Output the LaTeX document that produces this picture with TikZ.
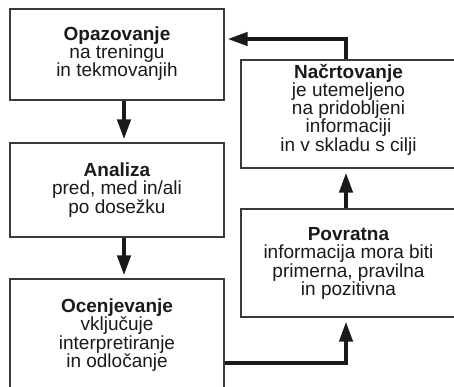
\documentclass[tikz,border=0pt]{standalone}
\usepackage{fontspec}
\setmainfont{Liberation Sans}
\usetikzlibrary{arrows.meta}
\definecolor{boxline}{HTML}{3A3A3A}
\definecolor{ink}{HTML}{1A1A1A}
\tikzset{
  box/.style={draw=boxline, line width=1.1pt, rectangle, inner sep=0pt},
  txt/.style={align=center, text=ink, inner sep=0pt,
    font=\fontsize{19}{18.3}\selectfont},
  arr/.style={draw=ink, line width=4pt, line join=miter,
    -{Triangle[width=13pt,length=20pt]}},
}
\begin{document}
\begin{tikzpicture}[x=1pt,y=-1pt]
\useasboundingbox (0,0) rectangle (454,387);
\clip (0,0) rectangle (454,387);
% boxes
\node[box, minimum width=214pt, minimum height=91pt] (A) at (117,54.5) {};
\node[box, minimum width=214pt, minimum height=94pt] (B) at (117,190) {};
\node[box, minimum width=214pt, minimum height=113pt] (C) at (117,335.5) {};
\node[box, minimum width=215pt, minimum height=108pt] (D) at (348.5,114) {};
\node[box, minimum width=215pt, minimum height=108pt] (E) at (348.5,263) {};
% texts
\node[txt] (tA) at (117,53.5) {\textbf{Opazovanje}\\na treningu\\in tekmovanjih};
\node[txt] (tB) at (117,190) {\textbf{Analiza}\\pred, med in/ali\\po dosežku};
\node[txt] (tC) at (117,335) {\textbf{Ocenjevanje}\\vključuje\\interpretiranje\\in odločanje};
\node[txt] (tD) at (348.5,109.5) {\textbf{Načrtovanje}\\je utemeljeno\\na pridobljeni\\informaciji\\in v skladu s cilji};
\node[txt] (tE) at (348.5,263.5) {\textbf{Povratna}\\informacija mora biti\\primerna, pravilna\\in pozitivna};
% arrows
\draw[arr, shorten >=3pt] ([xshift=7pt]A.south) -- ([xshift=7pt]B.north);
\draw[arr, shorten >=3pt] ([xshift=7pt]B.south) -- ([xshift=7pt]C.north);
\draw[arr, shorten >=4pt] ([yshift=-27.5pt]C.east) -| ([xshift=-2.5pt]E.south);
\draw[arr, shorten >=4pt] ([xshift=-2.5pt]E.north) -- ([xshift=-2.5pt]D.south);
\draw[arr, shorten >=3pt] ([xshift=-2.5pt]D.north) |- ([yshift=15.5pt]A.east);
\end{tikzpicture}
\end{document}
